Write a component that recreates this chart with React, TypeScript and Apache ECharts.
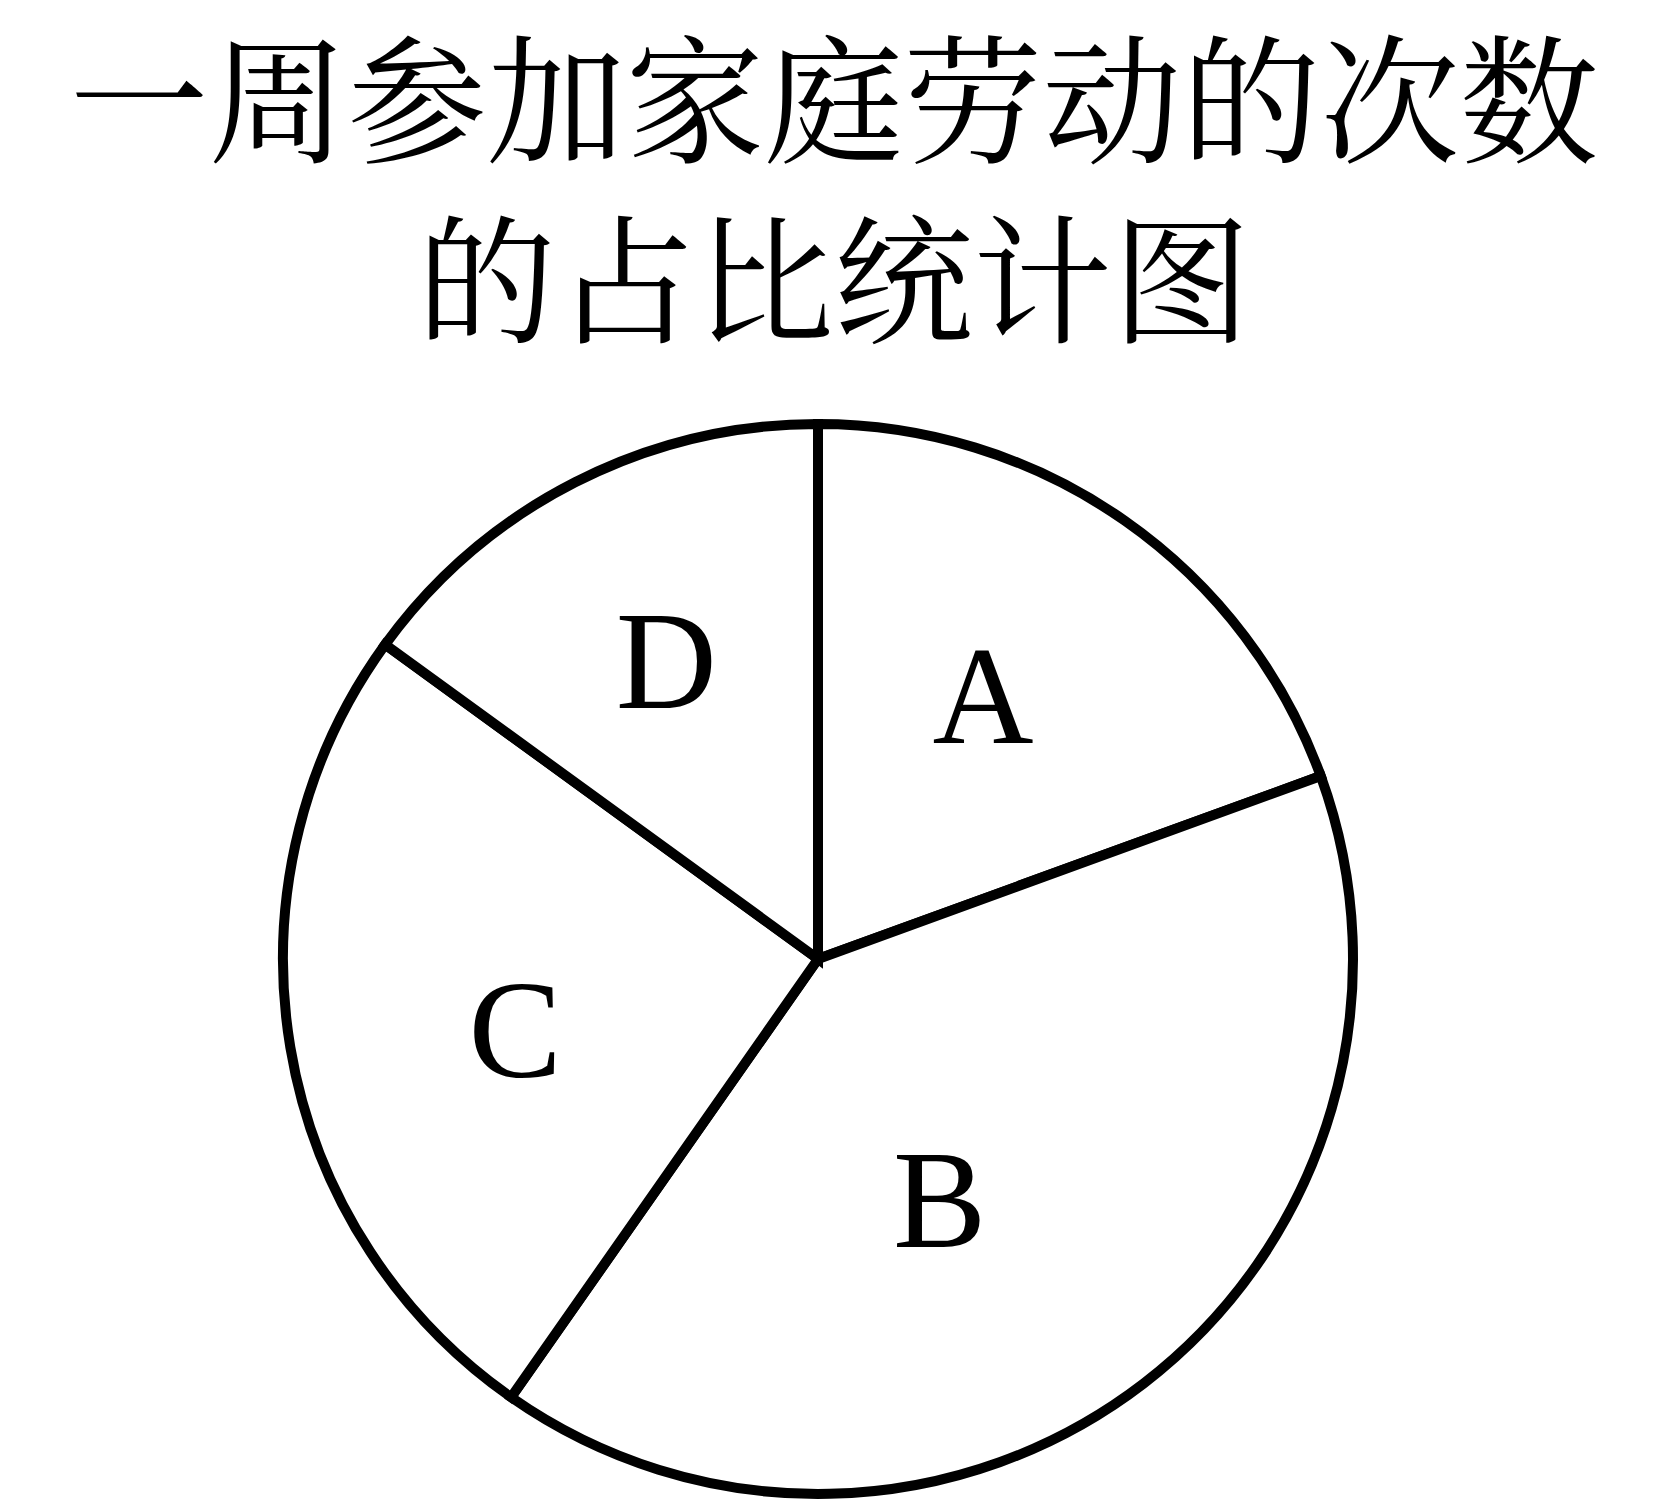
import React, { useEffect, useRef } from "react";
import * as echarts from "echarts";

const titleLines = ["一周参加家庭劳动的次数", "的占比统计图"];
const categories = ["A", "B", "C", "D"];
// sector angles (degrees of the full circle)
const values = [70, 145, 91, 54];
// label nudges (px) from the default inside position
const labelShift = [
  [10, -42],
  [-43, 26],
  [-36, 26],
  [-29, -57],
];

export default function App() {
  const ref = useRef<HTMLDivElement>(null);
  useEffect(() => {
    document.body.style.margin = "0";
    const chart = echarts.init(ref.current!, null, { renderer: "svg" });
    const titleFont = '"Noto Serif CJK SC", "Noto Sans CJK SC", serif';
    chart.setOption({
      animation: false,
      backgroundColor: "#ffffff",
      title: titleLines.map((t, i) => ({
        text: t,
        left: "center",
        top: i === 0 ? 22 : 202,
        padding: 0,
        textStyle: {
          fontSize: 139,
          fontWeight: "normal",
          fontFamily: titleFont,
          color: "#000",
          lineHeight: 139,
        },
      })),
      series: [
        {
          type: "pie",
          center: [818, 959],
          radius: 535,
          startAngle: 90,
          clockwise: true,
          avoidLabelOverlap: false,
          silent: true,
          itemStyle: { color: "#ffffff", borderColor: "#000000", borderWidth: 10, borderJoin: "miter" },
          label: {
            show: true,
            position: "inside",
            formatter: "{b}",
            fontSize: 140,
            fontFamily: '"Liberation Serif", "Times New Roman", serif',
            color: "#000",
          },
          labelLine: { show: false },
          labelLayout: (p: any) => ({ dx: labelShift[p.dataIndex][0], dy: labelShift[p.dataIndex][1] }),
          emphasis: { disabled: true },
          data: categories.map((c, i) => ({ name: c, value: values[i] })),
        },
      ],
    });
    return () => chart.dispose();
  }, []);
  return <div ref={ref} style={{ width: 1668, height: 1501 }} />;
}
